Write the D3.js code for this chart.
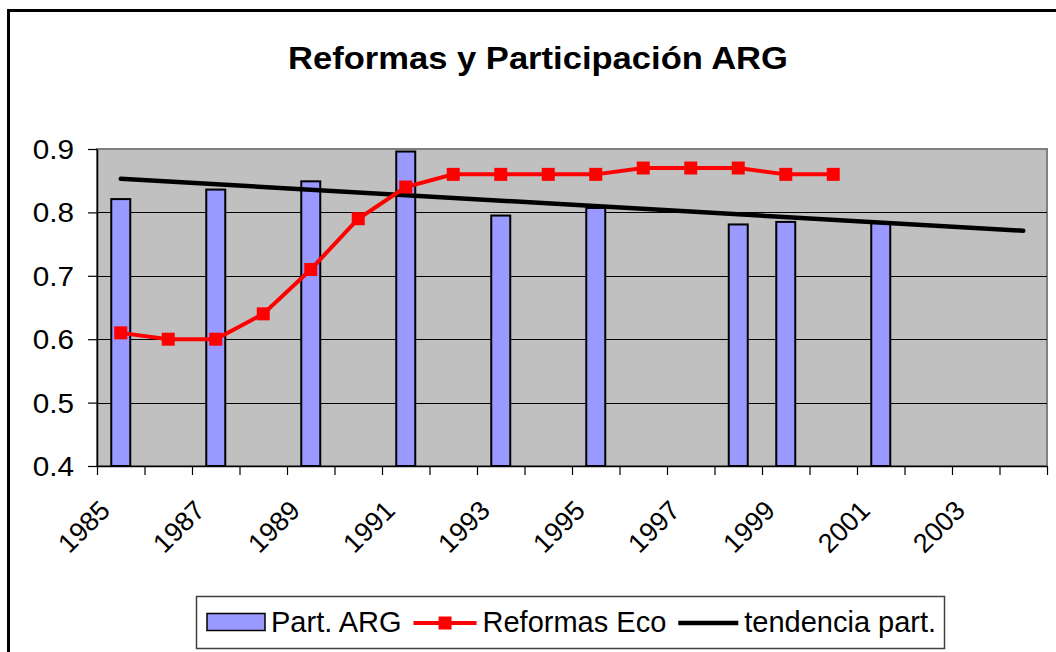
<!DOCTYPE html>
<html>
<head>
<meta charset="utf-8">
<script src="https://cdn.jsdelivr.net/npm/d3@7"></script>
<style>
  body { margin: 0; background: #fff; }
  svg { display: block; font-family: "Liberation Sans", Arial, sans-serif; }
</style>
</head>
<body>
<div id="chart"></div>
<script>
// categories (every year on the axis)
var years = [1985, 1986, 1987, 1988, 1989, 1990, 1991, 1992, 1993, 1994,
             1995, 1996, 1997, 1998, 1999, 2000, 2001, 2002, 2003, 2004];
var xTickLabels = [1985, 1987, 1989, 1991, 1993, 1995, 1997, 1999, 2001, 2003];
var yTicks = [0.4, 0.5, 0.6, 0.7, 0.8, 0.9];

// Part. ARG (bars)
var partYears  = [1985, 1987, 1989, 1991, 1993, 1995, 1998, 1999, 2001];
var partValues = [0.821, 0.836, 0.849, 0.896, 0.795, 0.807, 0.781, 0.785, 0.783];

// Reformas Eco (red line)
var reformYears  = [1985, 1986, 1987, 1988, 1989, 1990, 1991, 1992,
                    1993, 1994, 1995, 1996, 1997, 1998, 1999, 2000];
var reformValues = [0.61, 0.60, 0.60, 0.64, 0.71, 0.79, 0.84, 0.86,
                    0.86, 0.86, 0.86, 0.87, 0.87, 0.87, 0.86, 0.86];

// tendencia part. (black trend line, end points)
var trendYears  = [1985, 2004];
var trendValues = [0.853, 0.771];

var W = 1056, H = 652;
var plotL = 97, plotR = 1047, plotT = 149, plotB = 466;

var svg = d3.select("#chart").append("svg")
    .attr("width", W)
    .attr("height", H);

// outer chart border (runs off the right / bottom edge)
svg.append("rect")
    .attr("x", 8.5).attr("y", 10.5)
    .attr("width", 1100).attr("height", 700)
    .attr("fill", "#fff")
    .attr("stroke", "#000")
    .attr("stroke-width", 3);

// title
svg.append("text")
    .attr("transform", "translate(538,69) scale(1.08,1)")
    .attr("text-anchor", "middle")
    .attr("font-size", 32)
    .attr("font-weight", "bold")
    .text("Reformas y Participación ARG");

var x = d3.scaleBand()
    .domain(years)
    .range([plotL, plotR])
    .padding(0);

var xIdx = d3.scaleLinear()
    .domain([0, years.length])
    .range([plotL, plotR]);

var y = d3.scaleLinear()
    .domain([0.4, 0.9])
    .range([plotB, plotT]);

// plot area
svg.append("rect")
    .attr("x", plotL).attr("y", plotT)
    .attr("width", plotR - plotL).attr("height", plotB - plotT)
    .attr("fill", "#c0c0c0")
    .attr("stroke", "#808080")
    .attr("stroke-width", 2);

// gridlines
svg.append("g")
    .selectAll("line")
    .data(yTicks.slice(1, -1))
    .enter()
    .append("line")
    .attr("x1", plotL).attr("x2", plotR)
    .attr("y1", function(d) { return Math.round(y(d)) + 0.5; })
    .attr("y2", function(d) { return Math.round(y(d)) + 0.5; })
    .attr("stroke", "#000")
    .attr("stroke-width", 1);

// bars
var barW = x.bandwidth() * 0.4;
svg.append("g")
    .selectAll("rect")
    .data(partValues)
    .enter()
    .append("rect")
    .attr("x", function(d, i) { return x(partYears[i]) + (x.bandwidth() - barW) / 2; })
    .attr("y", function(d) { return y(d); })
    .attr("width", barW)
    .attr("height", function(d) { return plotB - y(d); })
    .attr("fill", "#9999ff")
    .attr("stroke", "#000")
    .attr("stroke-width", 2);

// y axis
var yAxis = svg.append("g")
    .attr("transform", "translate(" + plotL + ",0)")
    .call(d3.axisLeft(y).tickValues(yTicks).tickSize(9).tickSizeOuter(0)
        .tickFormat(d3.format(".1f")));
yAxis.select(".domain").attr("stroke", "#000").attr("stroke-width", 1.5);
yAxis.selectAll(".tick line").attr("stroke", "#000").attr("stroke-width", 1.2);
yAxis.selectAll(".tick text")
    .attr("x", null).attr("dy", null)
    .attr("transform", "translate(-23,9.5) scale(1.1,1)")
    .attr("text-anchor", "end")
    .attr("font-size", 27)
    .attr("font-family", "Liberation Sans, Arial, sans-serif")
    .attr("fill", "#000");

// x axis: tick marks on category boundaries
var xTicks = svg.append("g")
    .attr("transform", "translate(0," + plotB + ")")
    .call(d3.axisBottom(xIdx).tickValues(d3.range(years.length + 1))
        .tickSize(9).tickSizeOuter(0).tickFormat(""));
xTicks.select(".domain").attr("stroke", "#000").attr("stroke-width", 1.5);
xTicks.selectAll(".tick line").attr("stroke", "#000").attr("stroke-width", 1.2);

// x axis: rotated labels on category centres
var xLabels = svg.append("g")
    .attr("transform", "translate(0," + plotB + ")")
    .call(d3.axisBottom(x).tickValues(xTickLabels).tickSize(0));
xLabels.select(".domain").remove();
xLabels.selectAll(".tick text")
    .attr("y", null).attr("dy", null)
    .attr("transform", "translate(-9,46) rotate(-45)")
    .attr("text-anchor", "end")
    .attr("font-size", 27)
    .attr("font-family", "Liberation Sans, Arial, sans-serif")
    .attr("fill", "#000");

// trend line
var trendLine = d3.line()
    .x(function(d, i) { return x(trendYears[i]) + x.bandwidth() / 2; })
    .y(function(d) { return y(d); });
svg.append("path")
    .datum(trendValues)
    .attr("d", trendLine)
    .attr("fill", "none")
    .attr("stroke", "#000")
    .attr("stroke-width", 4.5)
    .attr("stroke-linecap", "round");

// Reformas Eco line + markers
var reformLine = d3.line()
    .x(function(d, i) { return x(reformYears[i]) + x.bandwidth() / 2; })
    .y(function(d) { return y(d); });
svg.append("path")
    .datum(reformValues)
    .attr("d", reformLine)
    .attr("fill", "none")
    .attr("stroke", "#ff0000")
    .attr("stroke-width", 4);

var mk = 13;
svg.append("g")
    .selectAll("rect")
    .data(reformValues)
    .enter()
    .append("rect")
    .attr("x", function(d, i) { return x(reformYears[i]) + x.bandwidth() / 2 - mk / 2; })
    .attr("y", function(d) { return y(d) - mk / 2; })
    .attr("width", mk)
    .attr("height", mk)
    .attr("fill", "#ff0000");

// legend
var legend = svg.append("g");
legend.append("rect")
    .attr("x", 196.5).attr("y", 596.5)
    .attr("width", 748).attr("height", 52)
    .attr("fill", "#fff")
    .attr("stroke", "#404040")
    .attr("stroke-width", 1.5);

var ly = 622, lx = 207;
var items = ["Part. ARG", "Reformas Eco", "tendencia part."];
items.forEach(function(name, i) {
    if (i === 0) {
        legend.append("rect")
            .attr("x", lx).attr("y", ly - 8.5)
            .attr("width", 58).attr("height", 17)
            .attr("fill", "#9999ff")
            .attr("stroke", "#000")
            .attr("stroke-width", 1.5);
        lx += 58;
    } else if (i === 1) {
        legend.append("line")
            .attr("x1", lx).attr("x2", lx + 63)
            .attr("y1", ly + 1).attr("y2", ly + 1)
            .attr("stroke", "#ff0000").attr("stroke-width", 4);
        legend.append("rect")
            .attr("x", lx + 25).attr("y", ly - 5.5)
            .attr("width", 13).attr("height", 13)
            .attr("fill", "#ff0000");
        lx += 63;
    } else {
        legend.append("line")
            .attr("x1", lx).attr("x2", lx + 60)
            .attr("y1", ly + 1).attr("y2", ly + 1)
            .attr("stroke", "#000").attr("stroke-width", 4.5);
        lx += 60;
    }
    lx += 6;
    var t = legend.append("text")
        .attr("x", lx).attr("y", ly + 9.5)
        .attr("font-size", 29)
        .attr("fill", "#000")
        .text(name);
    lx += t.node().getComputedTextLength() + 12;
});
</script>
</body>
</html>
